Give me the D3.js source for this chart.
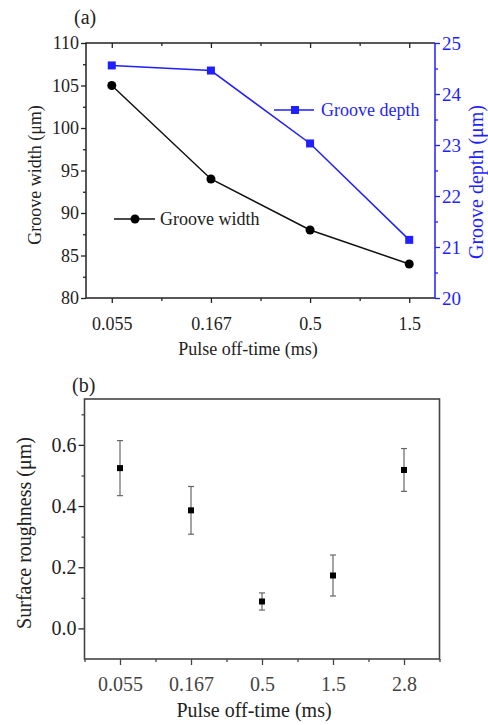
<!DOCTYPE html>
<html>
<head>
<meta charset="utf-8">
<script src="https://cdn.jsdelivr.net/npm/d3@7"></script>
<style>
  html, body { margin: 0; padding: 0; background: #fff; }
  svg { display: block; font-family: "Liberation Serif", "Times New Roman", serif; }
  .tick text { font-family: "Liberation Serif", "Times New Roman", serif; }
</style>
</head>
<body>
<div id="chart"></div>
<script>
// ---- data (a)
const offTimesA = ["0.055", "0.167", "0.5", "1.5"];
const grooveWidth = [105, 94, 88, 84];
const grooveDepth = [24.56, 24.46, 23.03, 21.14];
const widthTicks = [80, 85, 90, 95, 100, 105, 110];
const depthTicks = [20, 21, 22, 23, 24, 25];

// ---- data (b)
const offTimesB = ["0.055", "0.167", "0.5", "1.5", "2.8"];
const roughness = [0.524, 0.386, 0.088, 0.173, 0.518];
const roughErr = [0.09, 0.078, 0.028, 0.067, 0.07];
const roughTicks = [0.0, 0.2, 0.4, 0.6];

const width = 488, height = 725;
const blue = "#1f1fff";

const svg = d3.select("#chart")
    .append("svg")
    .attr("width", width)
    .attr("height", height)
    .attr("viewBox", [0, 0, width, height]);

// small helper to style axis groups
function styleAxis(g, color, fs) {
    g.select(".domain").remove();
    g.selectAll(".tick line").attr("stroke", color).attr("stroke-width", 1.3);
    g.selectAll(".tick text").attr("fill", color).attr("font-size", fs);
}

// ================= chart (a) =================
const a = { left: 86, right: 435, top: 43, bottom: 298 };

let xa = d3.scaleLinear()
    .domain([-0.26, offTimesA.length - 1 + 0.26])
    .range([a.left, a.right]);
let ya = d3.scaleLinear().domain([80, 110]).range([a.bottom, a.top]);
let ya2 = d3.scaleLinear().domain([20, 25]).range([a.bottom, a.top]);

const idxA = offTimesA.map((d, i) => i);
const minorA = idxA.slice(1).map(i => i - 0.5);

// bottom
svg.append("g")
    .attr("transform", `translate(0,${a.bottom})`)
    .call(d3.axisBottom(xa).tickValues(idxA).tickSize(5).tickPadding(14)
        .tickFormat(i => offTimesA[i]))
    .call(g => styleAxis(g, "#222", 18));
svg.append("g")
    .attr("transform", `translate(0,${a.bottom})`)
    .call(d3.axisBottom(xa).tickValues(minorA).tickSize(3).tickFormat(""))
    .call(g => styleAxis(g, "#222", 18));
// top (inward)
svg.append("g")
    .attr("transform", `translate(0,${a.top})`)
    .call(d3.axisTop(xa).tickValues(idxA).tickSize(-5).tickFormat(""))
    .call(g => styleAxis(g, "#222", 18));
svg.append("g")
    .attr("transform", `translate(0,${a.top})`)
    .call(d3.axisTop(xa).tickValues(minorA).tickSize(-3).tickFormat(""))
    .call(g => styleAxis(g, "#222", 18));
// left
svg.append("g")
    .attr("transform", `translate(${a.left},0)`)
    .call(d3.axisLeft(ya).tickValues(widthTicks).tickSize(5).tickPadding(2)
        .tickFormat(d3.format("d")))
    .call(g => styleAxis(g, "#222", 18));
svg.append("g")
    .attr("transform", `translate(${a.left},0)`)
    .call(d3.axisLeft(ya).tickValues(d3.range(82.5, 110, 5)).tickSize(3).tickFormat(""))
    .call(g => styleAxis(g, "#222", 18));
// right (blue)
svg.append("g")
    .attr("transform", `translate(${a.right},0)`)
    .call(d3.axisRight(ya2).tickValues(depthTicks).tickSize(5).tickPadding(2)
        .tickFormat(d3.format("d")))
    .call(g => styleAxis(g, blue, 19));
svg.append("g")
    .attr("transform", `translate(${a.right},0)`)
    .call(d3.axisRight(ya2).tickValues(d3.range(20.5, 25, 1)).tickSize(3).tickFormat(""))
    .call(g => styleAxis(g, blue, 18));

// frame
svg.append("path")
    .attr("d", `M${a.right},${a.top}H${a.left}V${a.bottom}H${a.right}`)
    .attr("fill", "none").attr("stroke", "#222").attr("stroke-width", 1.5);
svg.append("line")
    .attr("x1", a.right).attr("x2", a.right)
    .attr("y1", a.top).attr("y2", a.bottom)
    .attr("stroke", blue).attr("stroke-width", 1.5);

// lines
let lineW = d3.line().x((d, i) => xa(i)).y(d => ya(d));
let lineD = d3.line().x((d, i) => xa(i)).y(d => ya2(d));

svg.append("path")
    .datum(grooveWidth)
    .attr("d", lineW)
    .attr("fill", "none")
    .attr("stroke", "#111")
    .attr("stroke-width", 1.5);
svg.selectAll(".cw")
    .data(grooveWidth)
    .join("circle")
    .attr("cx", (d, i) => xa(i))
    .attr("cy", d => ya(d))
    .attr("r", 4.5)
    .attr("fill", "#000");

svg.append("path")
    .datum(grooveDepth)
    .attr("d", lineD)
    .attr("fill", "none")
    .attr("stroke", blue)
    .attr("stroke-width", 1.5);
svg.selectAll(".sd")
    .data(grooveDepth)
    .join("rect")
    .attr("x", (d, i) => xa(i) - 4)
    .attr("y", d => ya2(d) - 4)
    .attr("width", 8)
    .attr("height", 8)
    .attr("fill", blue);

// legends
const legD = svg.append("g").attr("transform", "translate(274,110)");
legD.append("line").attr("x1", 0).attr("x2", 40).attr("stroke", blue).attr("stroke-width", 1.5);
legD.append("rect").attr("x", 17).attr("y", -4).attr("width", 8).attr("height", 8).attr("fill", blue);
legD.append("text").attr("x", 47).attr("y", 6).attr("font-size", 18).attr("fill", blue).text("Groove depth");

const legW = svg.append("g").attr("transform", "translate(114,219)");
legW.append("line").attr("x1", 0).attr("x2", 41).attr("stroke", "#111").attr("stroke-width", 1.5);
legW.append("circle").attr("cx", 21).attr("cy", 0).attr("r", 4.5).attr("fill", "#000");
legW.append("text").attr("x", 46).attr("y", 6).attr("font-size", 18).attr("fill", "#222").text("Groove width");

// labels
svg.append("text")
    .attr("x", 74).attr("y", 24)
    .attr("font-size", 20).attr("fill", "#222")
    .text("(a)");
svg.append("text")
    .attr("text-anchor", "middle")
    .attr("x", 248).attr("y", 355)
    .attr("font-size", 18).attr("fill", "#222")
    .text("Pulse off-time (ms)");
svg.append("text")
    .attr("text-anchor", "middle")
    .attr("transform", `translate(41,175) rotate(-90)`)
    .attr("font-size", 18).attr("fill", "#222")
    .text("Groove width (μm)");
svg.append("text")
    .attr("text-anchor", "middle")
    .attr("transform", `translate(483,182) rotate(-90)`)
    .attr("font-size", 20).attr("fill", blue)
    .text("Groove depth (μm)");

// ================= chart (b) =================
const b = { left: 84.5, right: 439.5, top: 399, bottom: 659 };
const grey = "#444";

let xb = d3.scaleLinear()
    .domain([-0.5, offTimesB.length - 0.5])
    .range([b.left, b.right]);
let yb = d3.scaleLinear().domain([-0.1, 0.75]).range([b.bottom, b.top]);

const idxB = offTimesB.map((d, i) => i);
const minorB = d3.range(-0.5, offTimesB.length, 1);

svg.append("g")
    .attr("transform", `translate(0,${b.bottom})`)
    .call(d3.axisBottom(xb).tickValues(idxB).tickSize(6).tickPadding(12)
        .tickFormat(i => offTimesB[i]))
    .call(g => styleAxis(g, grey, 20));
svg.append("g")
    .attr("transform", `translate(0,${b.bottom})`)
    .call(d3.axisBottom(xb).tickValues(minorB).tickSize(3).tickFormat(""))
    .call(g => styleAxis(g, grey, 20));
svg.append("g")
    .attr("transform", `translate(${b.left},0)`)
    .call(d3.axisLeft(yb).tickValues(roughTicks).tickSize(6).tickPadding(2)
        .tickFormat(d3.format(".1f")))
    .call(g => styleAxis(g, "#222", 20));
svg.append("g")
    .attr("transform", `translate(${b.left},0)`)
    .call(d3.axisLeft(yb).tickValues([0.1, 0.3, 0.5, 0.7]).tickSize(3).tickFormat(""))
    .call(g => styleAxis(g, grey, 20));

svg.append("rect")
    .attr("x", b.left).attr("y", b.top)
    .attr("width", b.right - b.left).attr("height", b.bottom - b.top)
    .attr("fill", "none").attr("stroke", grey).attr("stroke-width", 1.6);

// error bars
const eb = svg.append("g").attr("stroke", "#666").attr("stroke-width", 1.2);
roughness.forEach((v, i) => {
    const cx = xb(i);
    eb.append("line").attr("x1", cx).attr("x2", cx)
        .attr("y1", yb(v - roughErr[i])).attr("y2", yb(v + roughErr[i]));
    eb.append("line").attr("x1", cx - 3).attr("x2", cx + 3)
        .attr("y1", yb(v + roughErr[i])).attr("y2", yb(v + roughErr[i]));
    eb.append("line").attr("x1", cx - 3).attr("x2", cx + 3)
        .attr("y1", yb(v - roughErr[i])).attr("y2", yb(v - roughErr[i]));
});
svg.selectAll(".sr")
    .data(roughness)
    .join("rect")
    .attr("x", (d, i) => xb(i) - 3)
    .attr("y", d => yb(d) - 3)
    .attr("width", 6)
    .attr("height", 6)
    .attr("fill", "#000");

svg.append("text")
    .attr("x", 72).attr("y", 392)
    .attr("font-size", 20).attr("fill", "#222")
    .text("(b)");
svg.append("text")
    .attr("text-anchor", "middle")
    .attr("x", 254).attr("y", 717)
    .attr("font-size", 20).attr("fill", "#222")
    .text("Pulse off-time (ms)");
svg.append("text")
    .attr("text-anchor", "middle")
    .attr("transform", `translate(31,533) rotate(-90)`)
    .attr("font-size", 20).attr("fill", "#222")
    .text("Surface roughness (μm)");
</script>
</body>
</html>
